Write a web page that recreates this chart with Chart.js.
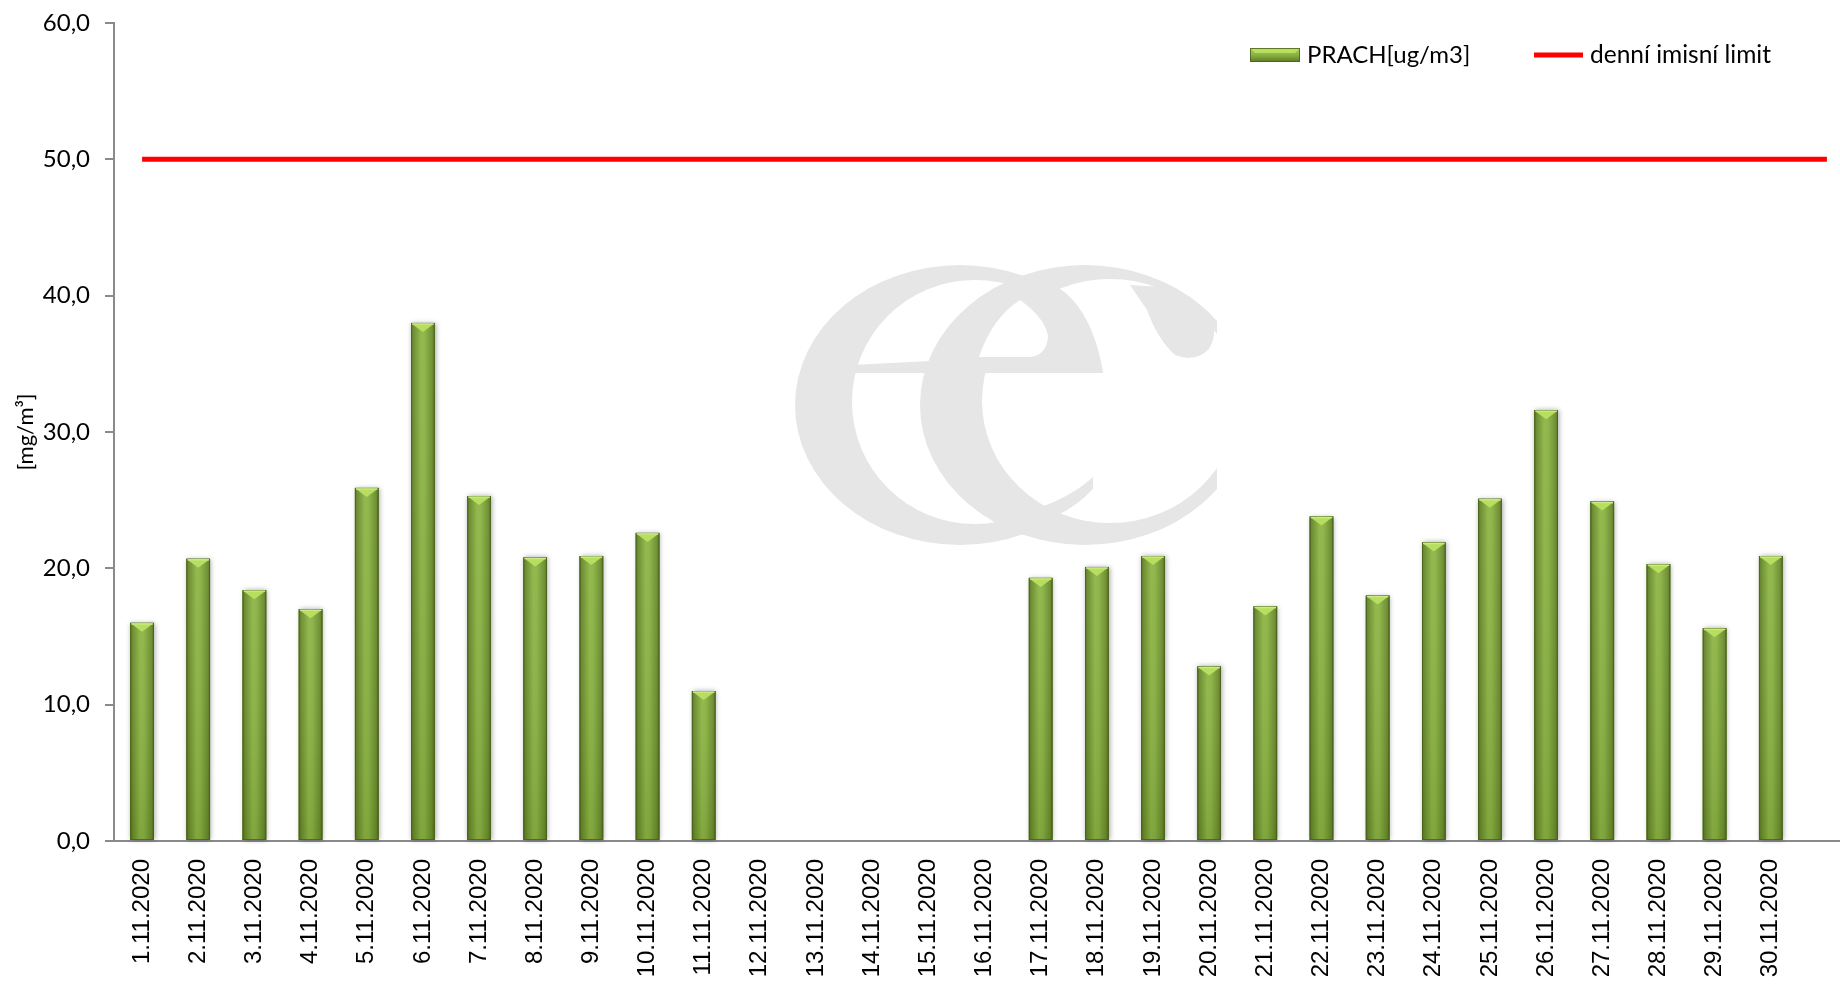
<!DOCTYPE html>
<html>
<head>
<meta charset="utf-8">
<script src="https://cdn.jsdelivr.net/npm/chart.js@4.4.1/dist/chart.umd.min.js"></script>
<style>
html,body{margin:0;padding:0;background:#fff;overflow:hidden;width:1840px;height:984px}
#wrap{position:relative;width:1840px;height:984px;overflow:hidden;background:#fff}
#c{position:absolute;left:0;top:0}
</style>
</head>
<body>
<div id="wrap"><canvas id="c" width="1880" height="984"></canvas></div>
<script>
// ---- data ----
const categories = ['1.11.2020','2.11.2020','3.11.2020','4.11.2020','5.11.2020','6.11.2020','7.11.2020','8.11.2020','9.11.2020','10.11.2020',
  '11.11.2020','12.11.2020','13.11.2020','14.11.2020','15.11.2020','16.11.2020','17.11.2020','18.11.2020','19.11.2020','20.11.2020',
  '21.11.2020','22.11.2020','23.11.2020','24.11.2020','25.11.2020','26.11.2020','27.11.2020','28.11.2020','29.11.2020','30.11.2020',''];
const prachValues = [16.0,20.7,18.4,17.0,25.9,38.0,25.3,20.8,20.9,22.6,
  11.0,null,null,null,null,null,19.3,20.1,20.9,12.8,
  17.2,23.8,18.0,21.9,25.1,31.6,24.9,20.3,15.6,20.9,null];
const limitValues = [50,50,50,50,50,50,50,50,50,50,50,50,50,50,50,50,50,50,50,50,50,50,50,50,50,50,50,50,50,50,50];
const seriesNames = ['PRACH[ug/m3]','denní imisní limit'];
const yAxisTitle = '[mg/m³]';
const yMin = 0, yMax = 60, yStep = 10;

// ---- layout constants ----
const W = 1880, H = 984;
const PLOT_LEFT = 114, PLOT_TOP = 23, PLOT_BOTTOM = 841, PLOT_RIGHT = 1855;

function barFill(ctx, x0, x1){
  const g = ctx.createLinearGradient(x0,0,x1,0);
  g.addColorStop(0,'#587522');
  g.addColorStop(0.12,'#6a8c2c');
  g.addColorStop(0.42,'#8db545');
  g.addColorStop(0.58,'#8ab243');
  g.addColorStop(0.88,'#6b8d2d');
  g.addColorStop(1,'#56721f');
  return g;
}

// background logo (decorative)
function buildLogo(){
  const oc = document.createElement('canvas');
  oc.width = W; oc.height = H;
  const c = oc.getContext('2d');
  const grey = '#e6e6e6';
  const ell = (cx,cy,rx,ry)=>{ c.beginPath(); c.ellipse(cx,cy,rx,ry,0,0,Math.PI*2); };
  c.fillStyle = grey;
  // left "e"
  ell(960,405,165,140); c.fill();
  c.globalCompositeOperation = 'destination-out';
  ell(975,402,123,122); c.fill();
  c.globalCompositeOperation = 'source-over';
  c.beginPath(); c.moveTo(852,365); c.lineTo(930,361); c.lineTo(930,373); c.lineTo(852,373); c.closePath(); c.fill();
  // "c"
  c.save(); c.beginPath(); c.rect(0,0,1217,H); c.clip();
  ell(1085,405,165,140); c.fill();
  c.restore();
  c.globalCompositeOperation = 'destination-out';
  ell(1110,401,128,122); c.fill();
  c.globalCompositeOperation = 'source-over';
  // ball terminal of the "c"
  c.beginPath();
  c.moveTo(1130,285); c.lineTo(1147,310);
  c.quadraticCurveTo(1158,340,1175,355);
  c.quadraticCurveTo(1195,363,1209,349);
  c.quadraticCurveTo(1220,330,1208,312);
  c.lineTo(1175,288); c.closePath(); c.fill();
  // inner "e"
  c.save(); c.beginPath(); c.rect(900,200,300,173); c.clip();
  ell(1040,410,66,127); c.fill();
  c.restore();
  c.globalCompositeOperation = 'destination-out';
  c.beginPath();
  c.moveTo(979,357); c.quadraticCurveTo(992,318,1020,300);
  c.quadraticCurveTo(1045,318,1048,336);
  c.quadraticCurveTo(1047,355,1030,357); c.closePath(); c.fill();
  c.globalCompositeOperation = 'source-over';
  c.beginPath();
  c.moveTo(1000,518); c.quadraticCurveTo(1062,506,1093,477);
  c.lineTo(1093,489); c.quadraticCurveTo(1062,522,1010,530); c.closePath(); c.fill();
  return oc;
}
const logoCanvas = buildLogo();

const watermark = {
  id:'watermark',
  beforeDatasetsDraw(chart){
    chart.ctx.drawImage(logoCanvas, 0, 0);
  }
};

const barStyle = {
  id:'barStyle',
  afterDatasetDraw(chart, args){
    if (args.index !== 0) return;
    const ctx = chart.ctx;
    const meta = args.meta;
    ctx.save();
    meta.data.forEach((el, i) => {
      if (prachValues[i] === null || prachValues[i] === undefined) return;
      const w = el.width, x0 = el.x - w/2, x1 = el.x + w/2, top = el.y, base = el.base;
      ctx.save();
      ctx.shadowColor = 'rgba(0,0,0,0.35)';
      ctx.shadowBlur = 5; ctx.shadowOffsetX = 1; ctx.shadowOffsetY = 0;
      ctx.fillStyle = barFill(ctx, x0, x1);
      ctx.fillRect(x0, top, w, base-top);
      ctx.restore();
      ctx.fillStyle = barFill(ctx, x0, x1);
      ctx.fillRect(x0, top, w, base-top);
      const vg = ctx.createLinearGradient(0, top, 0, base);
      vg.addColorStop(0,'rgba(255,255,255,0.05)');
      vg.addColorStop(1,'rgba(40,60,10,0.12)');
      ctx.fillStyle = vg;
      ctx.fillRect(x0, top, w, base-top);
      ctx.strokeStyle = 'rgba(70,95,25,0.8)';
      ctx.lineWidth = 1;
      ctx.strokeRect(x0+0.5, top+0.5, w-1, base-top-1);
      const bh = Math.min(9, (base-top));
      ctx.beginPath();
      ctx.moveTo(x0+1, top+1);
      ctx.lineTo(x1-1, top+1);
      ctx.lineTo(el.x, top+bh);
      ctx.closePath();
      ctx.fillStyle = '#b7de5e';
      ctx.fill();
      ctx.beginPath();
      ctx.moveTo(x0+1, top+1); ctx.lineTo(x1-1, top+1);
      ctx.strokeStyle = '#c9ea86'; ctx.lineWidth = 1.5; ctx.stroke();
    });
    ctx.restore();
  }
};

const customLegend = {
  id:'customLegend',
  afterDraw(chart){
    const ctx = chart.ctx;
    const ds = chart.data.datasets;
    const cy = 55;
    ctx.save();
    const sx0 = 1250, sx1 = 1300, sy0 = 48, sy1 = 62;
    const g = ctx.createLinearGradient(0, sy0, 0, sy1);
    g.addColorStop(0,'#a9cf5a'); g.addColorStop(0.5,'#8ab243'); g.addColorStop(1,'#5c7a25');
    ctx.fillStyle = g;
    ctx.fillRect(sx0, sy0, sx1-sx0, sy1-sy0);
    ctx.beginPath();
    ctx.moveTo(sx0, sy0); ctx.lineTo(sx1, sy0); ctx.lineTo(sx1-5, sy0+5); ctx.lineTo(sx0+5, sy0+5); ctx.closePath();
    ctx.fillStyle = '#b9df62'; ctx.fill();
    ctx.strokeStyle = 'rgba(70,95,25,0.8)'; ctx.lineWidth = 1;
    ctx.strokeRect(sx0+0.5, sy0+0.5, sx1-sx0-1, sy1-sy0-1);
    ctx.fillStyle = '#000';
    ctx.font = '24px Lato';
    ctx.textBaseline = 'middle';
    ctx.textAlign = 'left';
    ctx.fillText(ds[0].label, 1307, cy);
    ctx.strokeStyle = ds[1].borderColor;
    ctx.lineWidth = 5;
    ctx.beginPath(); ctx.moveTo(1534, cy); ctx.lineTo(1583, cy); ctx.stroke();
    ctx.font = '24.5px Lato';
    ctx.fillText(ds[1].label, 1590, cy);
    ctx.restore();
  }
};

const ctx = document.getElementById('c').getContext('2d');
new Chart(ctx, {
  data: {
    labels: categories,
    datasets: [
      {type:'bar', label: seriesNames[0], data: prachValues, backgroundColor:'#7ea23a', borderWidth:0,
       barPercentage:0.42, categoryPercentage:1.0, order:2},
      {type:'line', label: seriesNames[1], data: limitValues, borderColor:'#ff0000', backgroundColor:'#ff0000',
       borderWidth:5, pointRadius:0, pointHoverRadius:0, tension:0, fill:false, order:1}
    ]
  },
  options: {
    responsive:false,
    animation:false,
    events:[],
    layout:{padding:{top:PLOT_TOP, right:W-PLOT_RIGHT, left:0, bottom:0}},
    plugins:{legend:{display:false}, tooltip:{enabled:false}, title:{display:false}},
    scales:{
      x:{
        offset:true,
        grid:{display:false, drawTicks:false},
        border:{display:true, color:'#8a8a8a', width:2},
        ticks:{autoSkip:false, minRotation:90, maxRotation:90, padding:18, color:'#000',
               font:{family:'"Liberation Sans", Arial', size:24}},
        afterFit(s){ s.height = H - PLOT_BOTTOM; }
      },
      y:{
        min:yMin, max:yMax,
        ticks:{stepSize:yStep, padding:15, color:'#000', font:{family:'Lato', size:24},
               callback:(v)=> Number(v).toFixed(1).replace('.',',')},
        grid:{drawOnChartArea:false, drawTicks:true, tickLength:9, color:'#8a8a8a', lineWidth:2},
        border:{display:true, color:'#8a8a8a', width:2},
        title:{display:true, text:yAxisTitle, color:'#000', font:{family:'Lato', size:22}, padding:{top:13, bottom:0}},
        afterFit(s){ s.width = PLOT_LEFT; s.paddingTop = 0; s.paddingBottom = 0; }
      }
    }
  },
  plugins:[watermark, barStyle, customLegend]
});
</script>
</body>
</html>
